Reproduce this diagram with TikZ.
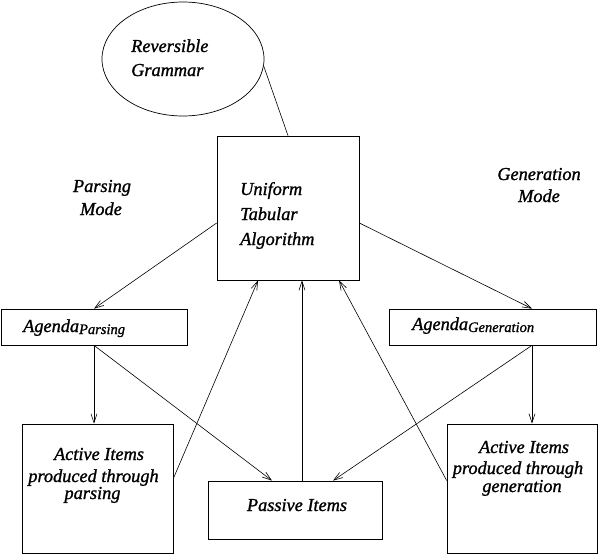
\documentclass[tikz,border=0pt]{standalone}
\usepackage{fontspec}
\setmainfont{Liberation Serif}[ItalicFeatures={FakeBold=1.2}]
\usetikzlibrary{shapes.geometric,arrows.meta}
\newcommand\agsub[1]{\raisebox{-2pt}{\fontsize{14.5}{16}\selectfont #1}}
\tikzset{
  box/.style={draw, line width=0.7pt, inner sep=0pt, rectangle},
  txt/.style={inner sep=0pt, font=\fontsize{18.3}{22}\selectfont\itshape},
  arr/.style={line width=0.6pt, -{Straight Barb[length=9pt,width=6pt]}},
  conn/.style={line width=0.6pt}
}
\begin{document}
\begin{tikzpicture}[x=1pt,y=-1pt]
\useasboundingbox (0,0) rectangle (598,554);
% shapes
\node[box, ellipse, minimum width=162pt, minimum height=114pt] (rg) at (183,59) {};
\node[box, minimum width=142pt, minimum height=144pt] (uta) at (288,208) {};
\node[box, minimum width=186pt, minimum height=36pt] (agp) at (94,327) {};
\node[box, minimum width=207pt, minimum height=36pt] (agg) at (492.5,327) {};
\node[box, minimum width=151pt, minimum height=129pt] (actp) at (97.5,488.5) {};
\node[box, minimum width=150pt, minimum height=129pt] (actg) at (522,488.5) {};
\node[box, minimum width=174pt, minimum height=58pt] (pas) at (295,510) {};
% texts
\node[txt, anchor=base west] (rg1) at (131,52) {Reversible};
\node[txt, anchor=base west] (rg2) at (131,76) {Grammar};
\node[txt, anchor=base west] (u1) at (240,195) {Uniform};
\node[txt, anchor=base west] (u2) at (240,220) {Tabular};
\node[txt, anchor=base west] (u3) at (240,245) {Algorithm};
\node[txt, anchor=base] (pm1) at (102,192) {Parsing};
\node[txt, anchor=base] (pm2) at (101,215) {Mode};
\node[txt, anchor=base] (gm1) at (539,180) {Generation};
\node[txt, anchor=base] (gm2) at (539,202) {Mode};
\node[txt, anchor=base west] (agpt) at (23,332) {Agenda\agsub{Parsing}};
\node[txt, anchor=base west] (aggt) at (412,330) {Agenda\agsub{Generation}};
\node[txt, anchor=base] (past) at (297,511) {Passive Items};
\node[txt, anchor=base] (ap1) at (99,460) {Active Items};
\node[txt, anchor=base] (ap2) at (93.5,482) {produced through};
\node[txt, anchor=base] (ap3) at (92.5,499) {parsing};
\node[txt, anchor=base] (ag1) at (524,453) {Active Items};
\node[txt, anchor=base] (ag2) at (518,474) {produced through};
\node[txt, anchor=base] (ag3) at (522,492) {generation};
% connectors
\draw[conn] (rg.-5) -- (uta.north);
\draw[arr] ([yshift=-15pt]uta.west) -- (agp.north);
\draw[arr] ([yshift=-15pt]uta.east) -- ([xshift=39.5pt]agg.north);
\draw[arr] (agp.south) -- (agp.south |- actp.north);
\draw[arr] ([xshift=39.5pt]agg.south) -- ([xshift=39.5pt]agg.south |- actg.north);
\draw[arr] (agp.south) -- ([xshift=-23pt]pas.north);
\draw[arr] ([xshift=39.5pt]agg.south) -- ([xshift=38pt]pas.north);
\draw[arr] ([yshift=10pt]actp.east) -- ([xshift=-30pt]uta.south);
\draw[arr] ([xshift=7pt]pas.north) -- ([xshift=7pt]pas.north |- uta.south);
\draw[arr] ([yshift=8pt]actg.west) -- ([xshift=51pt]uta.south);
\end{tikzpicture}
\end{document}
